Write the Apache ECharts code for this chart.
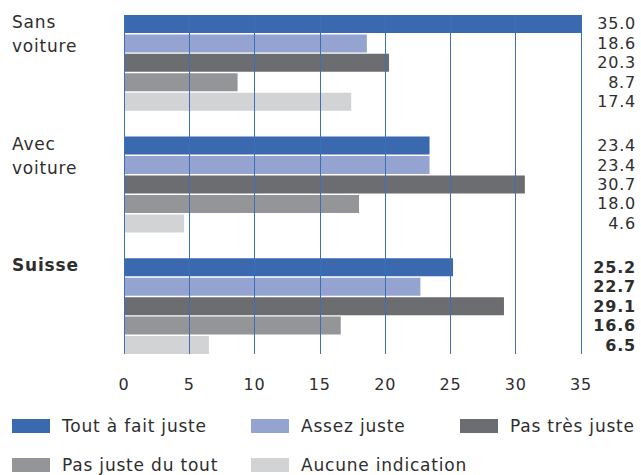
<!DOCTYPE html>
<html>
<head>
<meta charset="utf-8">
<script src="https://cdn.jsdelivr.net/npm/echarts@6/dist/echarts.min.js"></script>
<style>
  html, body { margin: 0; padding: 0; background: #fff; }
  #chart { width: 641px; height: 475px; }
  #chart text { letter-spacing: 0.8px; }
</style>
</head>
<body>
<div id="chart"></div>
<script>
// Groups, top to bottom
const categories = ['Sans voiture', 'Avec voiture', 'Suisse'];
// Answer categories (one bar series each)
const seriesNames = ['Tout à fait juste', 'Assez juste', 'Pas très juste', 'Pas juste du tout', 'Aucune indication'];
const toutAFait   = [35.0, 23.4, 25.2];
const assez       = [18.6, 23.4, 22.7];
const pasTres     = [20.3, 30.7, 29.1];
const pasDuTout   = [8.7, 18.0, 16.6];
const aucune      = [17.4, 4.6, 6.5];
const xTicks = [0, 5, 10, 15, 20, 25, 30, 35];

const colors = ['#3a69b0', '#94a3d0', '#6c6d71', '#949598', '#d2d3d5'];
const values = [toutAFait, assez, pasTres, pasDuTout, aucune];
const FONT = 'DejaVu Sans';
const TXT = '#2e2e2e';
const boldGroup = 'Suisse';

// legend slots: [left, top] for each series entry, three columns by two rows
const legendSlots = [[12, 416], [251, 416], [460, 416], [12, 455], [251, 455]];

const chart = echarts.init(document.getElementById('chart'), null, { renderer: 'svg' });

const series = seriesNames.map((name, i) => ({
  name,
  type: 'bar',
  xAxisIndex: 1,
  yAxisIndex: 1,
  barWidth: 18,
  barGap: '8%',
  itemStyle: { color: colors[i] },
  label: {
    show: true,
    position: [512, '50%'],
    align: 'right',
    verticalAlign: 'middle',
    color: TXT,
    fontFamily: FONT,
    fontSize: 16,
    formatter: p => p.value.toFixed(1)
  },
  data: values[i].map((v, j) => categories[j] === boldGroup
    ? { value: v, label: { fontWeight: 'bold' } }
    : v)
}));

const legends = seriesNames.map((name, i) => ({
  data: [name],
  left: legendSlots[i][0],
  top: legendSlots[i][1],
  padding: 0,
  icon: 'rect',
  itemWidth: 38,
  itemHeight: 14,
  selectedMode: false,
  textStyle: { color: TXT, fontFamily: FONT, fontSize: 17, lineHeight: 20, padding: [0, 0, 0, 7] }
}));

chart.setOption({
  animation: false,
  backgroundColor: '#fff',
  legend: legends,
  grid: [
    // vertical reference lines and tick labels
    { left: 124, width: 457, top: 15, height: 339 },
    // bars
    { left: 124, width: 457, top: 2, height: 365 }
  ],
  xAxis: [
    {
      gridIndex: 0,
      type: 'value',
      min: xTicks[0],
      max: xTicks[xTicks.length - 1],
      interval: 5,
      z: 10,
      axisLine: { show: false },
      axisTick: { show: false },
      axisLabel: { color: TXT, fontFamily: FONT, fontSize: 16, margin: 22 },
      splitLine: { show: true, lineStyle: { color: '#3a70b6', width: 1 } }
    },
    {
      gridIndex: 1,
      type: 'value',
      min: xTicks[0],
      max: xTicks[xTicks.length - 1],
      show: false
    }
  ],
  yAxis: [
    { gridIndex: 0, type: 'value', show: false },
    {
      gridIndex: 1,
      type: 'category',
      inverse: true,
      data: categories,
      axisLine: { show: false },
      axisTick: { show: false },
      splitLine: { show: false },
      axisLabel: {
        align: 'left',
        margin: 112,
        verticalAlign: 'middle',
        padding: [0, 0, 10, 0],
        formatter: v => {
          const key = v === boldGroup ? 'b' : 'n';
          const lines = v.split(' ');
          while (lines.length < 4) lines.push(' ');
          return lines.map(s => '{' + key + '|' + s + '}').join('\n');
        },
        rich: {
          n: { color: TXT, fontFamily: FONT, fontSize: 17, lineHeight: 24 },
          b: { color: TXT, fontFamily: FONT, fontSize: 17, lineHeight: 24, fontWeight: 'bold' }
        }
      }
    }
  ],
  series
});
</script>
</body>
</html>
